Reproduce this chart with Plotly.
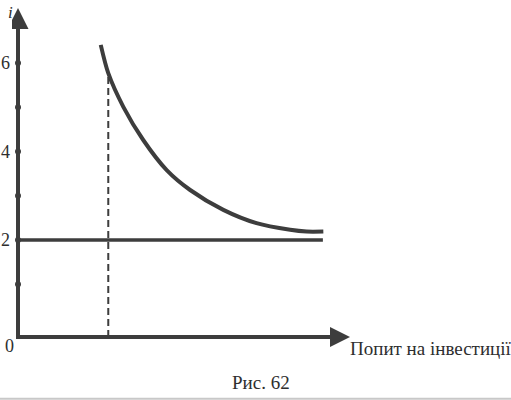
import plotly.graph_objects as go

# investment demand curve
curve_q = [1.87, 2.04, 2.38, 2.83, 3.36, 3.89, 4.64, 5.39, 6.15, 6.52, 6.90]
curve_i = [6.41, 5.77, 5.01, 4.26, 3.58, 3.13, 2.68, 2.38, 2.23, 2.19, 2.19]

# horizontal rate line at i = 2
level_q = [0, 6.89]
level_i = [2, 2]

# dashed drop line
drop_q = [2.04, 2.04]
drop_i = [-0.19, 5.77]

# unit marks on the vertical axis
mark_i = [1, 2, 3, 4, 5, 6]
tick_vals = [2, 4, 6]
tick_text = ["2", "4", "6"]

INK = "#3d3d3d"
FONT = "Liberation Serif, Times New Roman, Times, serif"

X_RANGE = [-0.1356, 11.141]
Y_RANGE = [-1.616, 7.424]
ORIGIN_Y = -0.192

fig = go.Figure()

# axes drawn as one polyline with arrow heads
fig.add_trace(go.Scatter(
    x=[0, 0, 7.1], y=[6.9, ORIGIN_Y, ORIGIN_Y], mode="lines",
    line=dict(color=INK, width=4), hoverinfo="skip",
))
fig.add_trace(go.Scatter(
    x=[0], y=[7.243], mode="markers",
    marker=dict(symbol="arrow-up", color=INK, size=21, line=dict(width=0)),
    hoverinfo="skip",
))
fig.add_trace(go.Scatter(
    x=[7.503], y=[ORIGIN_Y], mode="markers",
    marker=dict(symbol="arrow-right", color=INK, size=20, line=dict(width=0)),
    hoverinfo="skip",
))

fig.add_trace(go.Scatter(
    x=drop_q, y=drop_i, mode="lines",
    line=dict(color=INK, width=2, dash="7px,4px"),
    hoverinfo="skip",
))
fig.add_trace(go.Scatter(
    x=level_q, y=level_i, mode="lines",
    line=dict(color=INK, width=3.5),
    hoverinfo="skip",
))
fig.add_trace(go.Scatter(
    x=curve_q, y=curve_i, mode="lines",
    line=dict(color=INK, width=4, shape="spline", smoothing=0.8),
    hoverinfo="skip",
))
fig.add_trace(go.Scatter(
    x=[0] * len(mark_i), y=mark_i, mode="markers",
    marker=dict(color=INK, size=6),
    hoverinfo="skip",
))

fig.update_layout(
    width=511,
    height=400,
    showlegend=False,
    plot_bgcolor="white",
    paper_bgcolor="white",
    margin=dict(l=12, r=0, t=0, b=0),
    font=dict(family=FONT, size=18, color="#2e2e2e"),
    xaxis=dict(
        range=X_RANGE, showgrid=False, zeroline=False, showline=False,
        showticklabels=False, ticks="", automargin=False,
    ),
    yaxis=dict(
        range=Y_RANGE, showgrid=False, zeroline=False, showline=False,
        tickvals=tick_vals, ticktext=tick_text, ticks="",
        ticklabelstandoff=1, automargin=False,
    ),
)

fig.add_annotation(
    text="<i>i</i>", xref="paper", yref="paper", x=-0.004, y=0.998,
    xanchor="center", yanchor="top",
    showarrow=False, font=dict(size=17),
)
fig.add_annotation(
    text="0", xref="paper", yref="paper", x=-0.006, y=0.135,
    xanchor="center", yanchor="middle",
    showarrow=False, font=dict(size=18),
)
fig.add_annotation(
    text="Попит на інвестиції", xref="paper", yref="paper",
    x=0.6733, y=0.13, xanchor="left", yanchor="middle",
    showarrow=False, font=dict(size=19),
)
fig.add_annotation(
    text="Рис. 62", xref="paper", yref="paper", x=0.498, y=0.012,
    xanchor="center", yanchor="bottom", showarrow=False, font=dict(size=19),
)
fig.add_shape(
    type="line", xref="paper", yref="paper",
    x0=-0.03, x1=1.0, y0=0.003, y1=0.003,
    line=dict(color="#c8c8c8", width=2),
)

fig.write_html(
    "out.html",
    config={"displayModeBar": False},
    post_script="document.body.style.margin = '0';",
)
